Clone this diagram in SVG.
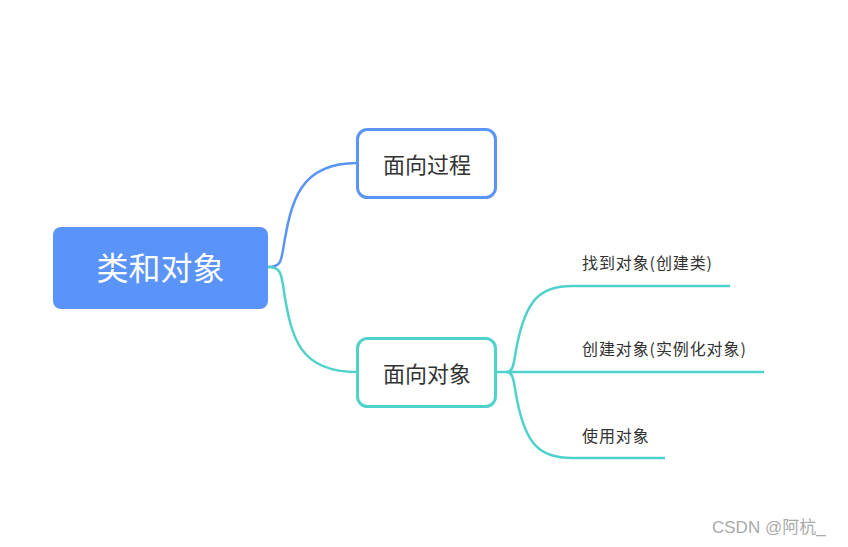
<svg xmlns="http://www.w3.org/2000/svg" width="848" height="547" viewBox="0 0 848 547">
<style>
text{font-family:"Noto Sans CJK SC","Liberation Sans",sans-serif;}
.blue{fill:none;stroke:#5b94f8;stroke-width:2.5;}
.teal{fill:none;stroke:#4fd1cc;stroke-width:2.5;}
.box{fill:#fff;stroke-width:3;}
.t2{font-size:22px;fill:#333;text-anchor:middle;}
.t3{font-size:16px;fill:#333;letter-spacing:0.9px;}
</style>
<rect width="848" height="547" fill="#fff"/>
<g id="connectors">
<path class="blue" d="M268,267 C280,267 281,262 283,250 C291,200 300,163 357,163"/>
<path class="teal" d="M268,267 C280,267 281,273 283,285 C291,340 300,372 357,372"/>
<path class="teal" d="M496,372 L764,372"/>
<path class="teal" d="M507,372 C514,372 514,360 517,345 C526,300 540,286 572,286 L730,286"/>
<path class="teal" d="M507,372 C514,372 514,385 517,400 C526,445 540,458 572,458 L665,458"/>
</g>
<g id="root">
<rect x="53" y="227" width="215" height="82" rx="8" fill="#5b94f8"/>
<text x="160.5" y="280" font-size="32" fill="#fff" text-anchor="middle">类和对象</text>
</g>
<g id="n1">
<rect class="box" x="357.5" y="129.5" width="138" height="68" rx="10" stroke="#5b94f8"/>
<text class="t2" x="427" y="173">面向过程</text>
</g>
<g id="n2">
<rect class="box" x="357.5" y="338.5" width="138" height="68" rx="10" stroke="#4fd1cc"/>
<text class="t2" x="427" y="382">面向对象</text>
</g>
<g id="c1"><text class="t3" x="582" y="269">找到对象(创建类)</text></g>
<g id="c2"><text class="t3" x="582" y="355">创建对象(实例化对象)</text></g>
<g id="c3"><text class="t3" x="582" y="442">使用对象</text></g>
<text x="712" y="533" font-size="17" fill="#aaa" style="font-family:'Liberation Sans','Noto Sans CJK SC',sans-serif">CSDN @阿杭_</text>
</svg>
